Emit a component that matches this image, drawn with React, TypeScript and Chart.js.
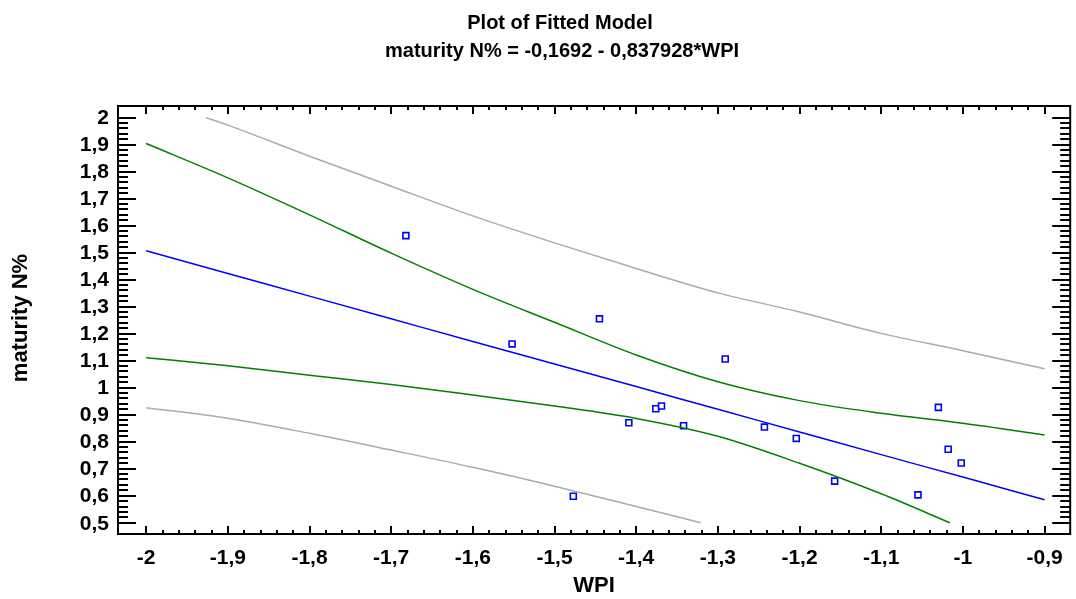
import { useEffect, useRef } from "react";
import { Chart, registerables } from "chart.js";

Chart.register(...registerables);

const TITLE_LINE_1 = "Plot of Fitted Model";
const TITLE_LINE_2 = "maturity N% = -0,1692 - 0,837928*WPI";
const X_TITLE = "WPI";
const Y_TITLE = "maturity N%";

const X_TICKS = [-2, -1.9, -1.8, -1.7, -1.6, -1.5, -1.4, -1.3, -1.2, -1.1, -1, -0.9];
const Y_TICKS = [0.5, 0.6, 0.7, 0.8, 0.9, 1, 1.1, 1.2, 1.3, 1.4, 1.5, 1.6, 1.7, 1.8, 1.9, 2];
const X_MIN = -2.0345;
const X_MAX = -0.8686;
const Y_MIN = 0.4582;
const Y_MAX = 2.0429;

// observed data
const OBS_WPI = [-1.682, -1.552, -1.445, -1.477, -1.409, -1.376, -1.369, -1.342, -1.291, -1.243, -1.204, -1.157, -1.055, -1.03, -1.018, -1.002];
const OBS_N = [1.563, 1.162, 1.255, 0.598, 0.87, 0.922, 0.932, 0.859, 1.106, 0.854, 0.812, 0.654, 0.603, 0.927, 0.772, 0.721];

// fitted line
const FIT_WPI = [-2, -1.9, -1.8, -1.7, -1.6, -1.5, -1.4, -1.3, -1.2, -1.1, -1, -0.9];
const FIT_N = [1.507, 1.423, 1.339, 1.255, 1.171, 1.088, 1.004, 0.92, 0.836, 0.752, 0.669, 0.585];

// confidence limits (green)
const CONF_UP_WPI = [-2, -1.9, -1.8, -1.7, -1.6, -1.5, -1.4, -1.3, -1.2, -1.1, -1, -0.9];
const CONF_UP_N = [1.904, 1.777, 1.64, 1.498, 1.364, 1.242, 1.121, 1.022, 0.952, 0.905, 0.868, 0.825];
const CONF_LO_WPI = [-2, -1.9, -1.8, -1.7, -1.6, -1.5, -1.4, -1.3, -1.2, -1.1, -1.016];
const CONF_LO_N = [1.111, 1.081, 1.046, 1.012, 0.973, 0.932, 0.886, 0.82, 0.72, 0.607, 0.5];

// prediction limits (gray)
const PRED_UP_WPI = [-1.927, -1.9, -1.8, -1.7, -1.6, -1.5, -1.4, -1.3, -1.2, -1.1, -1, -0.9];
const PRED_UP_N = [2.0, 1.972, 1.857, 1.746, 1.636, 1.536, 1.441, 1.351, 1.28, 1.201, 1.137, 1.07];
const PRED_LO_WPI = [-2, -1.9, -1.8, -1.7, -1.6, -1.5, -1.4, -1.321];
const PRED_LO_N = [0.926, 0.887, 0.831, 0.769, 0.705, 0.635, 0.56, 0.5];

const pts = (xs: number[], ys: number[]) => xs.map((x, i) => ({ x, y: ys[i] }));
const fmt = (v: number) => {
  const r = Math.round(v * 10) / 10;
  return String(r).replace(".", ",");
};

const FONT = "'Liberation Sans', Arial, Helvetica, sans-serif";

const framePlugin = {
  id: "framePlugin",
  afterDraw(chart: any) {
    const ctx = chart.ctx;
    const { left, right, top, bottom } = chart.chartArea;
    const xs = chart.scales.x;
    const ys = chart.scales.y;
    ctx.save();
    ctx.strokeStyle = "#000";
    ctx.lineCap = "butt";
    ctx.lineWidth = 2;
    const yMinor: number[] = [];
    for (let i = 0; i < Y_TICKS.length - 1; i++) {
      for (let k = 1; k < 5; k++) yMinor.push(Y_TICKS[i] + (k * (Y_TICKS[i + 1] - Y_TICKS[i])) / 5);
    }
    const xMinor: number[] = [];
    for (let i = 0; i < X_TICKS.length - 1; i++) {
      for (let k = 1; k < 5; k++) xMinor.push(X_TICKS[i] + (k * (X_TICKS[i + 1] - X_TICKS[i])) / 5);
    }
    ctx.beginPath();
    Y_TICKS.forEach((v) => {
      const py = Math.round(ys.getPixelForValue(v));
      ctx.moveTo(left, py);
      ctx.lineTo(left + 18, py);
      ctx.moveTo(right, py);
      ctx.lineTo(right - 18, py);
    });
    yMinor.forEach((v) => {
      const py = Math.round(ys.getPixelForValue(v));
      ctx.moveTo(left, py);
      ctx.lineTo(left + 10, py);
      ctx.moveTo(right, py);
      ctx.lineTo(right - 10, py);
    });
    X_TICKS.forEach((v) => {
      const px = Math.round(xs.getPixelForValue(v));
      ctx.moveTo(px, bottom);
      ctx.lineTo(px, bottom - 8);
      ctx.moveTo(px, top);
      ctx.lineTo(px, top + 8);
    });
    xMinor.forEach((v) => {
      const px = Math.round(xs.getPixelForValue(v));
      ctx.moveTo(px, bottom);
      ctx.lineTo(px, bottom - 4);
      ctx.moveTo(px, top);
      ctx.lineTo(px, top + 4);
    });
    ctx.stroke();
    ctx.lineWidth = 2;
    ctx.strokeRect(left, top, right - left, bottom - top);

    ctx.fillStyle = "#000";
    ctx.font = `bold 21px ${FONT}`;
    ctx.textAlign = "right";
    ctx.textBaseline = "middle";
    Y_TICKS.forEach((v) => {
      ctx.fillText(fmt(v), left - 9, ys.getPixelForValue(v) + 1);
    });
    ctx.textAlign = "center";
    X_TICKS.forEach((v) => {
      ctx.fillText(fmt(v), xs.getPixelForValue(v), bottom + 24);
    });

    ctx.font = `bold 22px ${FONT}`;
    ctx.fillText(X_TITLE, (left + right) / 2, 586);
    ctx.save();
    ctx.translate(21, (top + bottom) / 2 - 2);
    ctx.rotate(-Math.PI / 2);
    ctx.fillText(Y_TITLE, 0, 0);
    ctx.restore();

    ctx.font = `bold 20px ${FONT}`;
    ctx.textBaseline = "alphabetic";
    ctx.fillText(TITLE_LINE_1, 560, 29);
    ctx.fillText(TITLE_LINE_2, 562, 57);
    ctx.restore();
  },
};

export default function App() {
  const ref = useRef<HTMLCanvasElement | null>(null);
  useEffect(() => {
    if (!ref.current) return;
    const lineDs = (label: string, data: any[], color: string, width: number) => ({
      type: "line" as const,
      label,
      data,
      borderColor: color,
      borderWidth: width,
      pointRadius: 0,
      fill: false,
      cubicInterpolationMode: "monotone" as const,
    });
    const chart = new Chart(ref.current, {
      type: "scatter",
      data: {
        datasets: [
          lineDs("Prediction upper", pts(PRED_UP_WPI, PRED_UP_N), "#ababab", 1.5),
          lineDs("Prediction lower", pts(PRED_LO_WPI, PRED_LO_N), "#ababab", 1.5),
          lineDs("Confidence upper", pts(CONF_UP_WPI, CONF_UP_N), "#008000", 1.5),
          lineDs("Confidence lower", pts(CONF_LO_WPI, CONF_LO_N), "#008000", 1.5),
          lineDs("Fitted", pts(FIT_WPI, FIT_N), "#0000ff", 1.5),
          {
            type: "scatter" as const,
            label: "Observed",
            data: pts(OBS_WPI, OBS_N),
            pointStyle: "rect",
            pointRadius: 4.2,
            borderWidth: 1.6,
            borderColor: "#0000ff",
            backgroundColor: "#ffffff",
          },
        ],
      } as any,
      options: {
        animation: false,
        responsive: true,
        maintainAspectRatio: false,
        layout: { padding: { left: 118, right: 2, top: 106, bottom: 65 } },
        plugins: { legend: { display: false }, tooltip: { enabled: false }, title: { display: false } },
        scales: {
          x: { type: "linear", min: X_MIN, max: X_MAX, display: false },
          y: { type: "linear", min: Y_MIN, max: Y_MAX, display: false },
        },
      },
      plugins: [framePlugin],
    });
    return () => chart.destroy();
  }, []);
  return (
    <div style={{ position: "absolute", left: 0, top: 0, width: 1076, height: 599, background: "#fff" }}>
      <canvas ref={ref} />
    </div>
  );
}
